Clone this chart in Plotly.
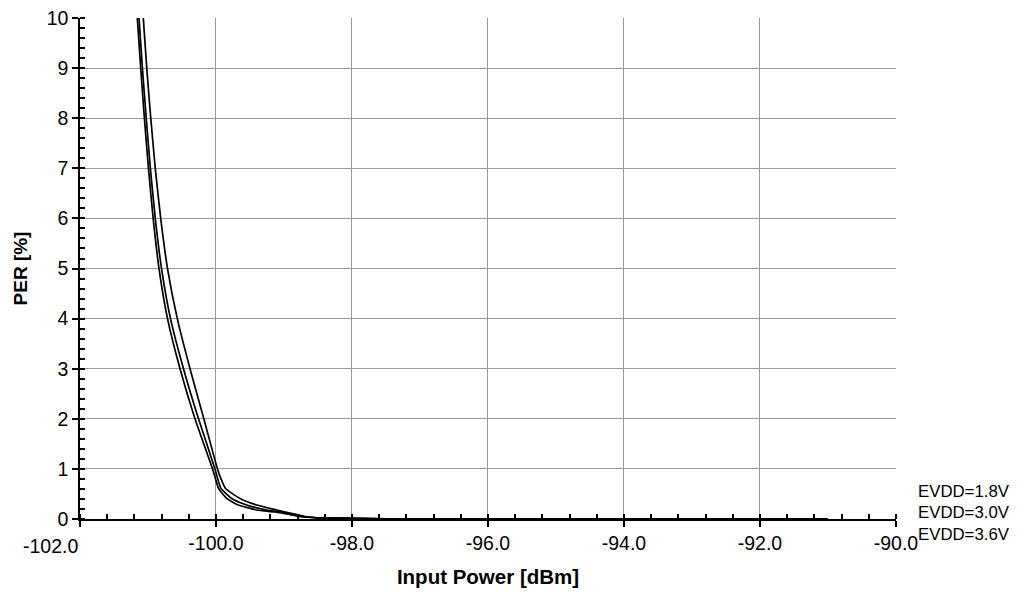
import plotly.graph_objects as go

# Data (Input Power dBm vs PER %)
labels = ["EVDD=1.8V", "EVDD=3.0V", "EVDD=3.6V"]

per_main = [10.5, 10, 9, 8, 7, 6, 5, 4, 3, 2, 1, 0.8, 0.61, 0.41, 0.28, 0.18]

x_18 = [-101.180, -101.157, -101.107, -101.053, -100.993, -100.924, -100.838, -100.713,
        -100.529, -100.309, -100.051, -100.006, -99.963, -99.843, -99.672, -99.401]
x_30 = [-101.156, -101.132, -101.082, -101.026, -100.965, -100.893, -100.801, -100.669,
        -100.478, -100.257, -100.015, -99.974, -99.926, -99.769, -99.549, -99.254]
x_36 = [-101.094, -101.069, -101.018, -100.959, -100.893, -100.813, -100.713, -100.569,
        -100.382, -100.179, -99.978, -99.926, -99.860, -99.647, -99.401, -99.107]

tail_x_18 = [-99.132, -98.912, -98.765, -98.500, -98.0, -97.5, -97.0, -96.0, -95.0, -94.0, -93.0, -92.0, -91.0]
tail_y_18 = [0.14, 0.09, 0.05, 0.025, 0.015, 0.005, 0.0, 0.0, 0.0, 0.0, 0.0, 0.0, 0.0]
tail_x_30 = [-99.029, -98.868, -98.691, -98.471, -98.0, -97.5, -97.0, -96.0, -95.0, -94.0, -93.0, -92.0, -91.0]
tail_y_30 = [0.14, 0.08, 0.04, 0.02, 0.015, 0.005, 0.0, 0.0, 0.0, 0.0, 0.0, 0.0, 0.0]
tail_x_36 = [-98.912, -98.691, -98.441, -98.0, -97.5, -97.0, -96.0, -95.0, -94.0, -93.0, -92.0, -91.0]
tail_y_36 = [0.12, 0.05, 0.02, 0.015, 0.005, 0.0, 0.0, 0.0, 0.0, 0.0, 0.0, 0.0]

series = [
    (x_18 + tail_x_18, per_main + tail_y_18),
    (x_30 + tail_x_30, per_main + tail_y_30),
    (x_36 + tail_x_36, per_main + tail_y_36),
]

x_ticks = [-102, -100, -98, -96, -94, -92, -90]
y_ticks = list(range(0, 11))

fig = go.Figure()
for (xs, ys), name in zip(series, labels):
    fig.add_trace(go.Scatter(x=xs, y=ys, mode="lines", name=name,
                             line=dict(color="black", width=1.7, shape="spline", smoothing=0.5),
                             showlegend=False))

font_family = "Liberation Sans, Arial, sans-serif"

# first x label is right-aligned to the axis in the reference, drawn as annotation
x_ticktext = [f"{v:.1f}" for v in x_ticks]
first_label = x_ticktext[0]
x_ticktext[0] = ""

fig.update_layout(
    width=1016, height=588,
    margin=dict(l=72, r=128, t=10, b=77),
    paper_bgcolor="white", plot_bgcolor="white",
    font=dict(family=font_family, color="black", size=19),
    xaxis=dict(
        range=[-102, -89.999], tickvals=x_ticks,
        ticktext=x_ticktext,
        automargin=False, ticklabeloverflow="allow",
        showgrid=True, gridcolor="#999999", gridwidth=1,
        showline=True, linecolor="black", linewidth=1.5,
        ticks="outside", ticklen=6, tickcolor="black", tickwidth=1.5,
        minor=dict(dtick=0.4, tick0=-102, ticks="inside", ticklen=5,
                   tickcolor="black", tickwidth=1.5, showgrid=False),
        zeroline=False,
        title=dict(text="<b>Input Power [dBm]</b>", font=dict(size=20.5), standoff=16),
        tickfont=dict(size=19.5),
    ),
    yaxis=dict(
        range=[0, 10.001], tickvals=y_ticks,
        automargin=False, ticklabeloverflow="allow",
        showgrid=True, gridcolor="#999999", gridwidth=1,
        showline=True, linecolor="black", linewidth=1.5,
        ticks="outside", ticklen=6, tickcolor="black", tickwidth=1.5,
        minor=dict(dtick=0.2, tick0=0, ticks="inside", ticklen=5,
                   tickcolor="black", tickwidth=1.5, showgrid=False),
        zeroline=False,
        title=dict(text="<b>PER [%]</b>", font=dict(size=19), standoff=14),
        tickfont=dict(size=19.5),
    ),
)

fig.add_annotation(text=first_label, xref="x", yref="paper", x=x_ticks[0], y=-0.054,
                   xanchor="right", yanchor="middle", xshift=0, showarrow=False,
                   font=dict(size=19.5, family=font_family, color="black"))

label_y = [0.0545, 0.0126, -0.0305]
for name, yy in zip(labels, label_y):
    fig.add_annotation(text=name, xref="paper", yref="paper", x=1.0245, y=yy,
                       xanchor="left", yanchor="middle", showarrow=False,
                       font=dict(size=16.8, family=font_family, color="black"))

fig.write_html("out.html")
